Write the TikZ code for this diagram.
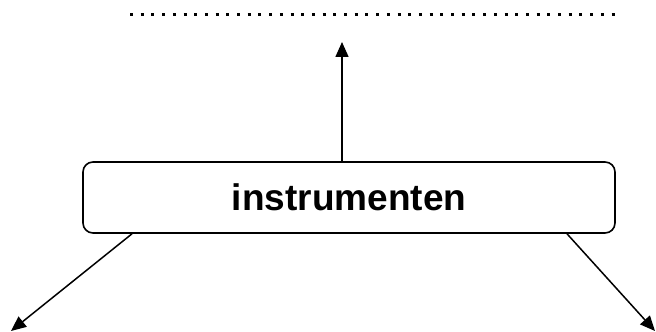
\documentclass[tikz,border=0pt]{standalone}
\usepackage{fontspec}
\setmainfont{Liberation Sans}
\usetikzlibrary{arrows.meta,positioning}

\begin{document}
\begin{tikzpicture}[
            x=1pt, y=1pt,
            box/.style={rectangle, draw, rounded corners=10pt, align=center, minimum width=532pt, minimum height=71pt, inner sep=0pt, fill=white, line width=1.6pt, font=\fontsize{37}{44}\selectfont\bfseries},
            arrow/.style={-{Triangle[length=15pt,width=13pt]}, line width=1.5pt},
            dots/.style={line width=3pt, dash pattern=on 3pt off 7.7pt}
        ]
            \useasboundingbox (0,0) rectangle (656,332);

            % --- Kader ---
            \node[box] (instr) at (349,134.5) {instrumenten};

            % --- Invullijn bovenaan ---
            \coordinate (lijnL) at (130,317);
            \coordinate (lijnR) at (622,317);
            \draw[dots] (lijnL) -- (lijnR);

            % --- Eindpunten van de pijlen ---
            \coordinate (doelBoven) at (342,290);
            \coordinate (doelLinks) at (11,1);
            \coordinate (doelRechts) at (655,1);

            % Pijlen vanuit het kader
            \draw[arrow] ([xshift=-7pt]instr.north) -- (doelBoven);
            \draw[arrow] ([xshift=-217pt]instr.south) -- (doelLinks);
            \draw[arrow] ([xshift=218pt]instr.south) -- (doelRechts);

        \end{tikzpicture}
\end{document}
